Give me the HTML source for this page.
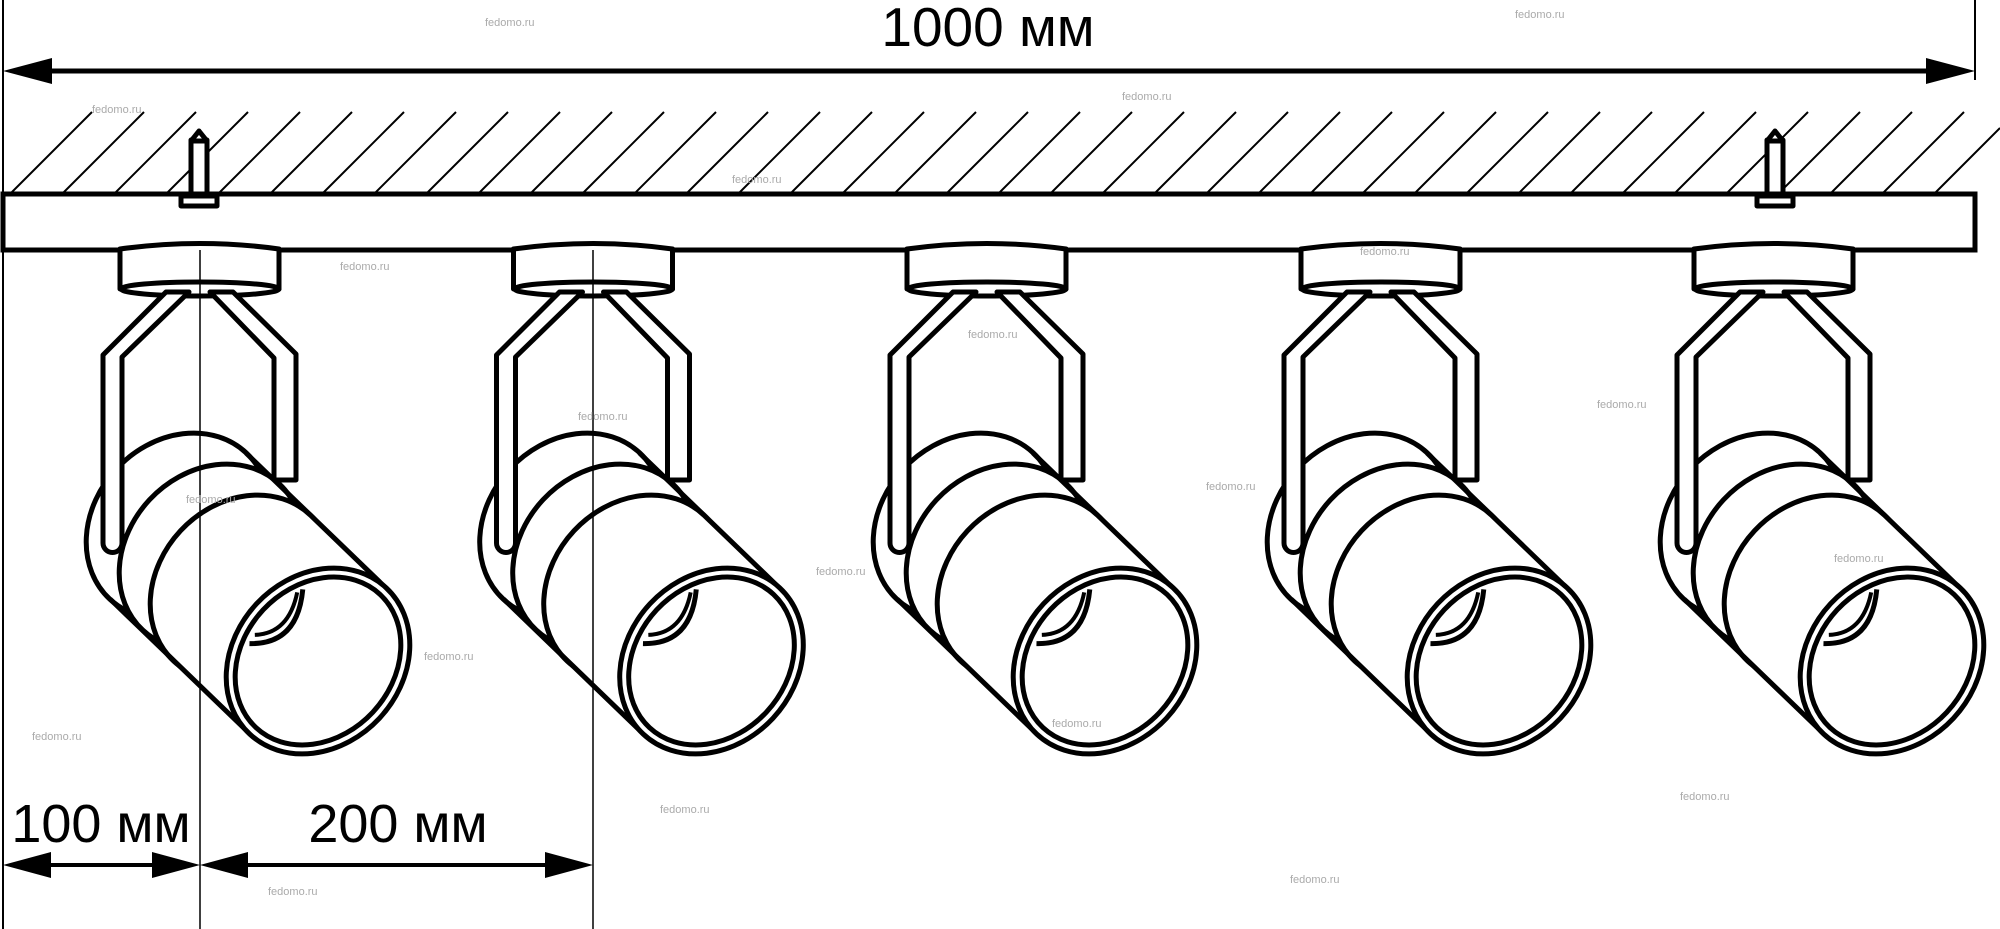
<!DOCTYPE html>
<html><head><meta charset="utf-8"><style>
html,body{margin:0;padding:0;background:#fff;}
svg{display:block;}
text{font-family:"Liberation Sans",sans-serif;}
</style></head><body>
<svg width="2000" height="929" viewBox="0 0 2000 929" xmlns="http://www.w3.org/2000/svg">
<defs>
<g id="lamp" stroke="#000" stroke-width="5" stroke-linejoin="round" fill="#fff">
  <!-- canopy -->
  <path d="M120,249 Q200,238 279,249 L279,289 L120,289 Z"/>
  <ellipse cx="200" cy="289" rx="79" ry="7"/>
  <!-- right arm (behind) -->
  <path d="M210,292 L233,292 L296,354 L296,480 L274,480 L274,358 Z"/>
  <!-- cylinder -->
  <ellipse rx="84" ry="100" transform="translate(178,526) rotate(43)"/>
  <ellipse rx="84" ry="100" transform="translate(211,557) rotate(43)"/>
  <ellipse rx="84" ry="100" transform="translate(242,588) rotate(43)"/>
  <polygon points="310,515 386,588 250,734 174,661" stroke="none"/>
  <line x1="246" y1="453" x2="386" y2="588"/>
  <line x1="110" y1="599" x2="250" y2="734"/>
  <g transform="translate(318,661) rotate(43)">
    <ellipse rx="84" ry="100"/>
    <ellipse rx="75" ry="91"/>
    <path d="M-62,34 Q-26,2 -60,-42" fill="none"/>
    <path d="M-64,24 Q-40,0 -62,-36" fill="none" stroke-width="4"/>
  </g>
  <!-- left arm (front) -->
  <path d="M166,292 L189,292 L122,357 L122,543 A9.5,9.5 0 0 1 103,543 L103,355 Z"/>
</g>
</defs>

<!-- extension lines -->
<line x1="3" y1="0" x2="3" y2="929" stroke="#000" stroke-width="2"/>
<line x1="1975" y1="0" x2="1975" y2="80" stroke="#000" stroke-width="2"/>

<!-- top dimension -->
<line x1="40" y1="71" x2="1940" y2="71" stroke="#000" stroke-width="5"/>
<polygon points="3,71 52,58 52,84" fill="#000"/>
<polygon points="1975,71 1926,58 1926,84" fill="#000"/>
<text x="988" y="46" font-size="55" text-anchor="middle">1000 мм</text>

<!-- hatching -->
<g stroke="#000" stroke-width="2">
<path d="M10,194 L92,112 M62,194 L144,112 M114,194 L196,112 M166,194 L248,112 M218,194 L300,112 M270,194 L352,112 M322,194 L404,112 M374,194 L456,112 M426,194 L508,112 M478,194 L560,112 M530,194 L612,112 M582,194 L664,112 M634,194 L716,112 M686,194 L768,112 M738,194 L820,112 M790,194 L872,112 M842,194 L924,112 M894,194 L976,112 M946,194 L1028,112 M998,194 L1080,112 M1050,194 L1132,112 M1102,194 L1184,112 M1154,194 L1236,112 M1206,194 L1288,112 M1258,194 L1340,112 M1310,194 L1392,112 M1362,194 L1444,112 M1414,194 L1496,112 M1466,194 L1548,112 M1518,194 L1600,112 M1570,194 L1652,112 M1622,194 L1704,112 M1674,194 L1756,112 M1726,194 L1808,112 M1778,194 L1860,112 M1830,194 L1912,112 M1882,194 L1964,112 M1934,194 L2000,128"/>
</g>

<!-- bar -->
<rect x="3" y="194" width="1972" height="56" fill="#fff" stroke="#000" stroke-width="5"/>

<!-- screws -->
<g stroke="#000" stroke-width="5" fill="#fff" stroke-linejoin="round">
  <rect x="181" y="196" width="36" height="10"/>
  <rect x="191" y="140" width="16" height="54"/>
  <polygon points="191,141 199,131 207,141"/>
  <rect x="1757" y="196" width="36" height="10"/>
  <rect x="1767" y="140" width="16" height="54"/>
  <polygon points="1767,141 1775,131 1783,141"/>
</g>

<!-- lamps -->
<use href="#lamp"/>
<use href="#lamp" transform="translate(393.5,0)"/>
<use href="#lamp" transform="translate(787,0)"/>
<use href="#lamp" transform="translate(1181,0)"/>
<use href="#lamp" transform="translate(1574,0)"/>

<!-- vertical dimension lines -->
<line x1="200" y1="250" x2="200" y2="929" stroke="#000" stroke-width="1.5"/>
<line x1="593" y1="250" x2="593" y2="929" stroke="#000" stroke-width="1.5"/>

<!-- bottom dimensions -->
<line x1="30" y1="865" x2="175" y2="865" stroke="#000" stroke-width="4"/>
<polygon points="3,865 51,852 51,878" fill="#000"/>
<polygon points="200,865 152,852 152,878" fill="#000"/>
<line x1="225" y1="865" x2="570" y2="865" stroke="#000" stroke-width="4"/>
<polygon points="200,865 248,852 248,878" fill="#000"/>
<polygon points="593,865 545,852 545,878" fill="#000"/>
<text x="101" y="842" font-size="54" text-anchor="middle">100 мм</text>
<text x="398" y="842" font-size="54" text-anchor="middle">200 мм</text>

<!-- watermarks -->
<g fill="#aaa" font-size="11">
<text x="485" y="26">fedomo.ru</text>
<text x="1515" y="18">fedomo.ru</text>
<text x="92" y="113">fedomo.ru</text>
<text x="1122" y="100">fedomo.ru</text>
<text x="732" y="183">fedomo.ru</text>
<text x="340" y="270">fedomo.ru</text>
<text x="1360" y="255">fedomo.ru</text>
<text x="968" y="338">fedomo.ru</text>
<text x="578" y="420">fedomo.ru</text>
<text x="1597" y="408">fedomo.ru</text>
<text x="186" y="503">fedomo.ru</text>
<text x="1206" y="490">fedomo.ru</text>
<text x="816" y="575">fedomo.ru</text>
<text x="424" y="660">fedomo.ru</text>
<text x="1834" y="562">fedomo.ru</text>
<text x="32" y="740">fedomo.ru</text>
<text x="1052" y="727">fedomo.ru</text>
<text x="660" y="813">fedomo.ru</text>
<text x="1680" y="800">fedomo.ru</text>
<text x="268" y="895">fedomo.ru</text>
<text x="1290" y="883">fedomo.ru</text>
</g>
</svg>
</body></html>
